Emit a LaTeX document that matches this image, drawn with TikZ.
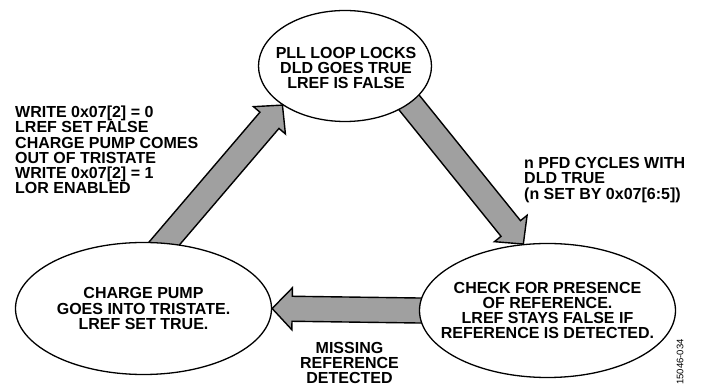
\documentclass[tikz,border=0pt]{standalone}
\usepackage{fontspec}
\setmainfont{Liberation Sans}
\usepackage{tikz}
\definecolor{arrowgray}{RGB}{160,160,160}
\usetikzlibrary{shapes.geometric, calc, backgrounds}

% thick block arrow from tail anchor #1 to tip anchor #2
\newcommand{\fatarrow}[2]{%
  \coordinate (fa-s) at ($(#1)!-12pt!(#2)$);
  \coordinate (fa-m) at ($(#2)!20pt!(#1)$);
  \draw[fat] ($(fa-s)!12.5pt!90:(#2)$) -- ($(fa-m)!12.5pt!90:(#2)$) -- ($(fa-m)!21pt!90:(#2)$)
    -- (#2) -- ($(fa-m)!21pt!-90:(#2)$) -- ($(fa-m)!12.5pt!-90:(#2)$) -- ($(fa-s)!12.5pt!-90:(#2)$) -- cycle;}

\begin{document}
\begin{tikzpicture}[
    x=1pt, y=-1pt,
    oval/.style={ellipse, draw, line width=1.3pt, fill=white, inner sep=0pt},
    note/.style={inner sep=0pt, font=\bfseries\fontsize{16}{15.2}\selectfont},
    fat/.style={draw, line width=1.4pt, fill=arrowgray, line join=miter}
]
    \useasboundingbox (0,0) rectangle (702,387);

    % states
    \node[oval, minimum width=173pt, minimum height=111pt] (pll) at (345,66) {};
    \node[oval, minimum width=256pt, minimum height=132pt] (cp) at (143.5,308.5) {};
    \node[oval, minimum width=256pt, minimum height=134pt] (chk) at (547.5,310.5) {};

    \node[note, align=center] (plltxt) at (346,68) {PLL LOOP LOCKS\\DLD GOES TRUE\\LREF IS FALSE};
    \node[note, align=center] (cptxt) at (cp) {CHARGE PUMP\\GOES INTO TRISTATE.\\LREF SET TRUE.};
    \node[note, align=center] (chktxt) at (chk) {CHECK FOR PRESENCE\\OF REFERENCE.\\LREF STAYS FALSE IF\\REFERENCE IS DETECTED.};

    % transition labels
    \node[note, align=left, anchor=west] (wrlbl) at (15,150) {WRITE 0x07[2] = 0\\LREF SET FALSE\\CHARGE PUMP COMES\\OUT OF TRISTATE\\WRITE 0x07[2] = 1\\LOR ENABLED};
    \node[note, align=left, anchor=west] (pfdlbl) at (524,180) {n PFD CYCLES WITH\\DLD TRUE\\(n SET BY 0x07[6:5])};
    \node[note, align=center] (misslbl) at (349.5,363) {MISSING\\REFERENCE\\DETECTED};

    \node[rotate=90, inner sep=0pt, font=\fontsize{9.5}{10}\selectfont] (figid) at (680,362) {15046-034};

    % transitions
    \begin{pgfonlayer}{background}
        \fatarrow{cp.72}{pll.212}
        \fatarrow{pll.-30}{chk.110}
        \fatarrow{chk.west}{cp.east}
    \end{pgfonlayer}
\end{tikzpicture}
\end{document}
